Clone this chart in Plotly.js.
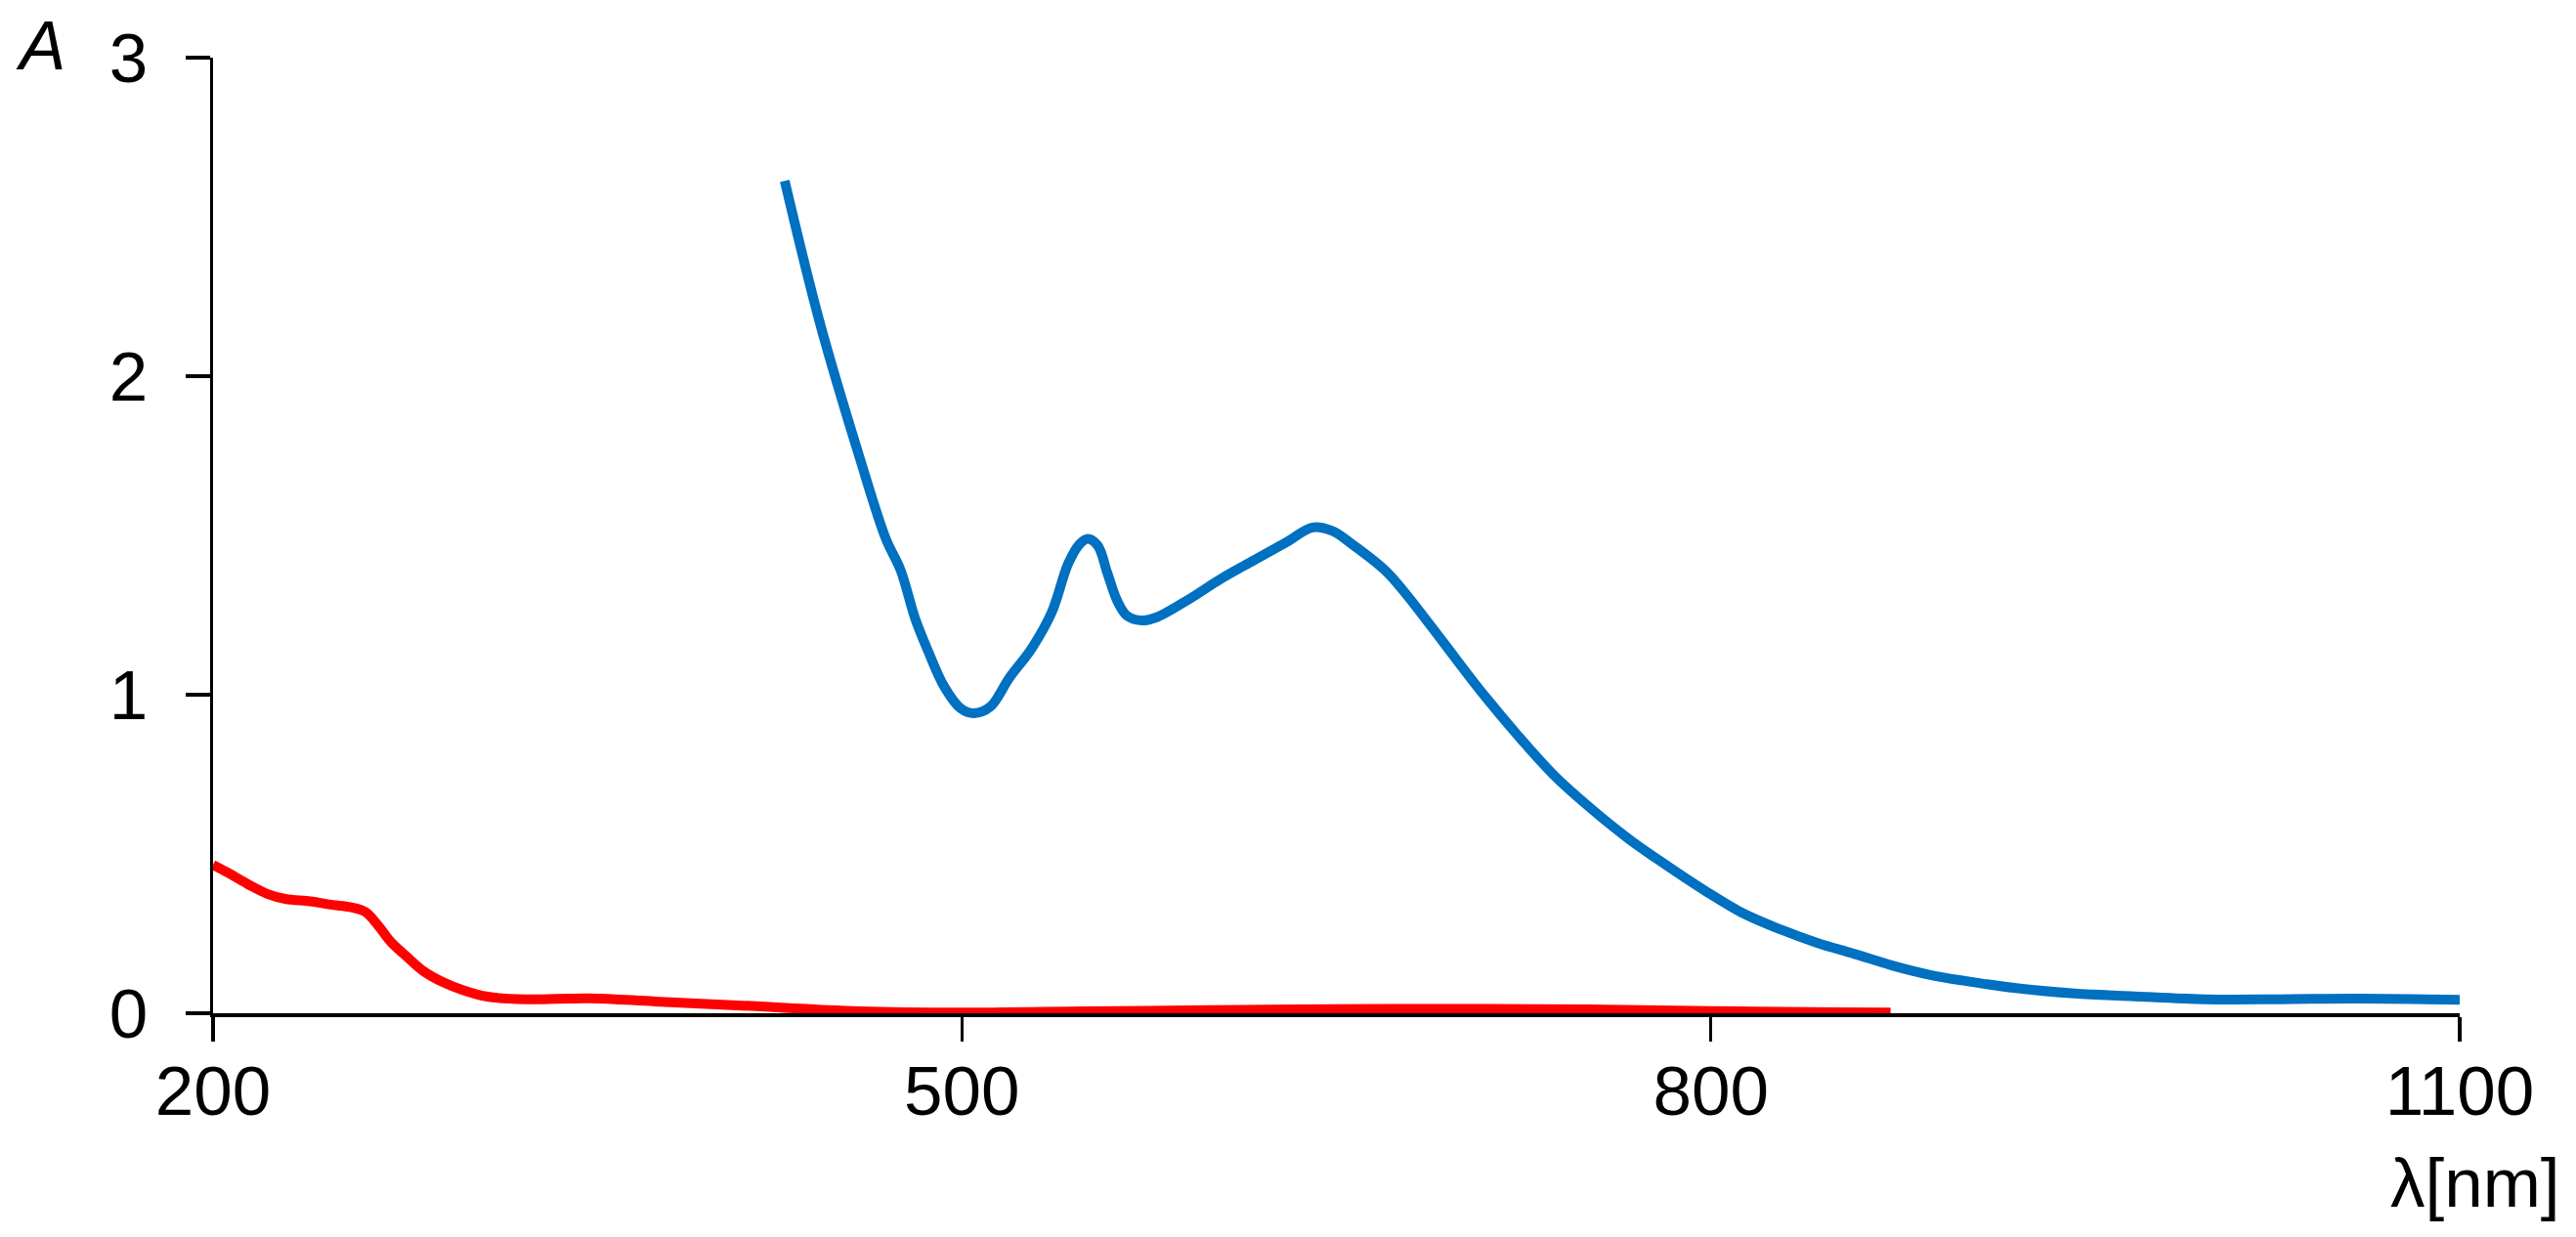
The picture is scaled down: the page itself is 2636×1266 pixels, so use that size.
<!DOCTYPE html>
<html>
<head>
<meta charset="utf-8">
<script src="https://cdn.plot.ly/plotly-3.0.1.min.js"></script>
<style>
    html, body { margin: 0; padding: 0; background: #fff; }
    #chart { width: 2636px; height: 1266px; }
</style>
</head>
<body>
<div id="chart"></div>
<script>
// Absorbance spectra
const blueWavelength = [429, 443, 459, 469.5, 475.4, 481.3, 486.5, 493, 499.5, 504.8, 511.3, 519.1,
    528, 536, 542.6, 547.2, 550.4, 554.4, 558.3, 562.2, 566.1, 572, 578, 591, 604, 617, 630,
    640.5, 648.4, 656.2, 669.3, 677.7, 692.7, 707.7, 722.7, 737.7, 752.7, 767.7, 782.7, 797.6,
    812.6, 827.6, 842.6, 857.6, 872.6, 887.5, 900.6, 923.1, 945.6, 968.1, 998.1, 1028, 1058, 1100];
const blueAbs = [2.613, 2.17, 1.745, 1.49, 1.392, 1.238, 1.136, 1.024, 0.957, 0.942, 0.962, 1.054,
    1.146, 1.259, 1.412, 1.473, 1.489, 1.468, 1.381, 1.295, 1.248, 1.233, 1.243, 1.300, 1.365, 1.422, 1.479,
    1.525, 1.514, 1.473, 1.392, 1.318, 1.166, 1.013, 0.872, 0.743, 0.638, 0.544, 0.462, 0.385,
    0.315, 0.264, 0.221, 0.186, 0.150, 0.121, 0.103, 0.078, 0.062, 0.054, 0.044, 0.044, 0.046, 0.042];

const redWavelength = [200, 206, 214, 222, 229, 239, 248, 255, 261, 266, 271, 278, 284, 292, 300, 310,
    325, 351, 377, 412, 459, 500, 550, 600, 650, 700, 750, 800, 850, 872];
const redAbs = [0.466, 0.441, 0.405, 0.374, 0.359, 0.351, 0.340, 0.333, 0.318, 0.277, 0.226, 0.175, 0.134, 0.098, 0.073, 0.052,
    0.044, 0.047, 0.037, 0.024, 0.006, 0.002, 0.006, 0.010, 0.013, 0.014, 0.012, 0.007, 0.003, 0.002];

const xTicks = [200, 500, 800, 1100];
const yTicks = [0, 1, 2, 3];

const FONT = 'Liberation Sans, Arial, sans-serif';

const data = [
    {
        type: 'scatter', mode: 'lines',
        x: redWavelength, y: redAbs,
        line: { color: '#ff0000', width: 10, shape: 'spline', smoothing: 1 },
        hoverinfo: 'skip',
    },
    {
        type: 'scatter', mode: 'lines',
        x: blueWavelength, y: blueAbs,
        line: { color: '#0070c0', width: 10, shape: 'spline', smoothing: 1 },
        hoverinfo: 'skip',
    },
];

const axisBase = {
    showgrid: false,
    zeroline: false,
    showline: true,
    linecolor: '#000',
    linewidth: 3.5,
    ticks: 'outside',
    ticklen: 25,
    tickwidth: 3.5,
    tickcolor: '#000',
    tickfont: { family: FONT, size: 71, color: '#000' },
    layer: 'below traces',
    fixedrange: true,
};

const layout = {
    width: 2636,
    height: 1266,
    paper_bgcolor: '#fff',
    plot_bgcolor: '#fff',
    showlegend: false,
    margin: { l: 218, r: 119, t: 59, b: 229 },
    xaxis: {
        ...axisBase,
        range: [200, 1100],
        tickvals: xTicks,
        ticktext: xTicks.map(String),
        ticklabelstandoff: -10,
    },
    yaxis: {
        ...axisBase,
        range: [0, 3],
        tickvals: yTicks,
        ticktext: yTicks.map(String),
        ticklabelstandoff: 24,
    },
    annotations: [
        {
            text: 'A', xref: 'paper', yref: 'paper',
            x: -0.0768, y: 1.0123, xanchor: 'center', yanchor: 'middle',
            showarrow: false,
            font: { family: FONT, size: 71, color: '#000', style: 'italic' },
        },
        {
            text: 'λ[nm]', xref: 'paper', yref: 'paper',
            x: 1.0455, y: -0.177, xanchor: 'right', yanchor: 'middle',
            showarrow: false,
            font: { family: FONT, size: 71, color: '#000' },
        },
    ],
};

Plotly.newPlot('chart', data, layout, { displayModeBar: false, staticPlot: true });
</script>
</body>
</html>
